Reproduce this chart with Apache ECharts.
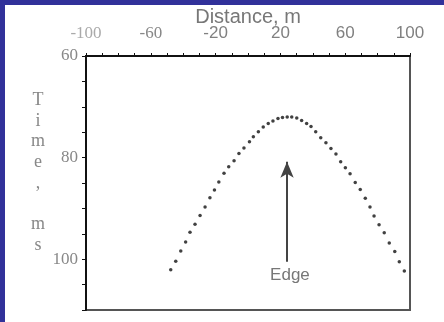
<!DOCTYPE html>
<html><head><meta charset="utf-8">
<script src="https://cdn.jsdelivr.net/npm/echarts@6/dist/echarts.min.js"></script>
<style>html,body{margin:0;padding:0;background:#fff}#c{width:444px;height:322px}</style>
</head><body><div id="c"></div>
<script>
const distX = [-47.7,-44.6,-41.5,-38.5,-35.8,-32.7,-29.6,-26.5,-23.5,-20.7,-18.0,-14.8,-11.9,-8.6,-5.6,-2.5,0.9,3.3,6.4,9.4,12.5,15.4,18.5,21.3,24.2,27.0,30.1,33.1,36.2,38.9,41.8,44.9,48.1,51.2,54.3,57.2,60.1,63.0,66.2,69.3,72.4,75.3,77.8,80.9,84.1,87.2,90.6,93.4,96.5];
const timeMs = [102.1,100.4,98.4,96.6,94.7,93.1,91.4,89.7,87.9,86.4,84.8,83.1,81.8,80.6,79.2,78.1,76.9,75.9,74.9,74.0,73.3,72.8,72.3,72.1,72.0,72.0,72.2,72.7,73.3,73.9,74.9,76.1,77.1,78.2,79.3,80.8,82.0,83.2,84.9,86.3,88.0,89.7,91.5,93.2,94.8,96.8,98.5,100.5,102.3];
const xTickLabels = [-100,-60,-20,20,60,100];
const yTickLabels = [60,80,100];
const arrowX = 24.1, arrowFrom = 100.5, arrowTo = 80.8;
const edgeLabel = {x: 25.9, t: 103.1, text: 'Edge'};

const chart = echarts.init(document.getElementById('c'));
chart.setOption({
  animation: false,
  backgroundColor: '#fff',
  grid: {left: 86, right: 34, top: 56, bottom: 12, containLabel: false, outerBoundsMode: 'none', show: true, borderColor: '#555', borderWidth: 2, backgroundColor: 'transparent'},
  graphic: [
    {type: 'rect', left: 0, top: 0, shape: {width: 444, height: 5}, style: {fill: '#31319a'}, z: 10},
    {type: 'rect', left: 0, top: 0, shape: {width: 5, height: 322}, style: {fill: '#31319a'}, z: 10},
    {type: 'text', x: 38, y: 90, style: {text: 'T\ni\nm\ne\n,\n\nm\ns', fill: '#888', font: '18px "Liberation Serif"', textAlign: 'center', textVerticalAlign: 'top', lineHeight: 20.7}}
  ],
  xAxis: {
    type: 'value', position: 'top', min: -100, max: 100, interval: 10,
    name: 'Distance, m', nameLocation: 'middle', nameGap: 29, nameMoveOverlap: false,
    nameTextStyle: {color: '#777', fontSize: 20, fontFamily: 'Liberation Sans'},
    axisLine: {show: true, onZero: false, lineStyle: {color: '#111', width: 2}},
    axisTick: {show: true, inside: false, length: 3, lineStyle: {color: '#111', width: 1}},
    splitLine: {show: false},
    axisLabel: {
      margin: 14,
      formatter: v => {
        if (xTickLabels.indexOf(v) < 0) return '';
        if (v === -100) return '{a|' + v + '}';
        if (v === -60) return '{b|' + v + '}';
        return '{c|' + v + '}';
      },
      rich: {
        a: {fontFamily: 'Liberation Serif', fontSize: 17, color: '#aaa'},
        b: {fontFamily: 'Liberation Serif', fontSize: 17, color: '#888'},
        c: {fontFamily: 'Liberation Sans', fontSize: 17, color: '#808080'}
      }
    }
  },
  yAxis: {
    type: 'value', inverse: true, min: 60, max: 110, interval: 5,
    axisLine: {show: true, onZero: false, lineStyle: {color: '#111', width: 2}},
    axisTick: {show: true, inside: false, length: 4, lineStyle: {color: '#111', width: 1}},
    splitLine: {show: false},
    axisLabel: {
      margin: 8, color: '#888', fontFamily: 'Liberation Serif', fontSize: 17,
      formatter: v => yTickLabels.indexOf(v) >= 0 ? String(v) : ''
    }
  },
  series: [{
    type: 'scatter',
    data: distX.map((x, i) => [x, timeMs[i]]),
    symbol: 'circle', symbolSize: 3.5,
    itemStyle: {color: '#111'},
    silent: true,
    markLine: {
      silent: true, symbolSize: [10, 16],
      label: {show: false},
      lineStyle: {color: '#444', width: 2, type: 'solid'},
      data: [[{coord: [arrowX, arrowFrom], symbol: 'none'}, {coord: [arrowX, arrowTo], symbol: 'arrow'}]]
    },
    markPoint: {
      silent: true, symbol: 'circle', symbolSize: 0,
      label: {show: true, position: 'inside', formatter: edgeLabel.text, color: '#777', fontSize: 17, fontFamily: 'Liberation Sans'},
      data: [{coord: [edgeLabel.x, edgeLabel.t]}]
    }
  }]
});
</script></body></html>
